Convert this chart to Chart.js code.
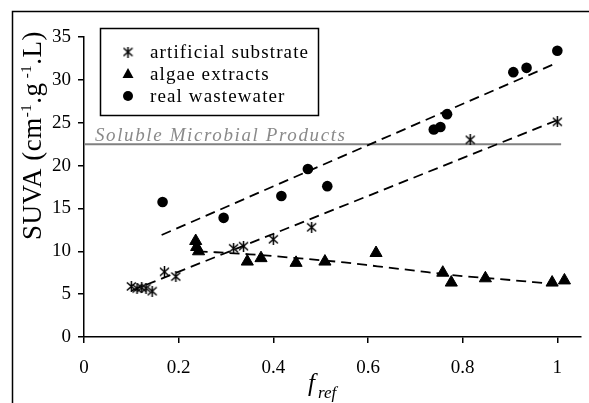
<!DOCTYPE html>
<html>
<head>
<meta charset="utf-8">
<script src="https://cdn.jsdelivr.net/npm/chart.js@4.4.1/dist/chart.umd.min.js"></script>
<style>
  html, body { margin: 0; padding: 0; background: #fff; }
</style>
</head>
<body>
<canvas id="chart" width="589" height="403"></canvas>
<script>
// series names (legend)
const seriesNames = ["artificial substrate", "algae extracts", "real wastewater"];

// artificial substrate (asterisks)
const artX = [0.100, 0.112, 0.122, 0.131, 0.144, 0.170, 0.194, 0.316, 0.337, 0.400, 0.481, 0.816, 1.000];
const artY = [5.9, 5.65, 5.75, 5.7, 5.35, 7.6, 7.05, 10.35, 10.6, 11.4, 12.8, 23.0, 25.1];

// algae extracts (triangles)
const algX = [0.236, 0.238, 0.242, 0.345, 0.374, 0.448, 0.509, 0.617, 0.758, 0.776, 0.848, 0.989, 1.015];
const algY = [11.2, 10.5, 10.0, 8.8, 9.2, 8.65, 8.8, 9.8, 7.5, 6.35, 6.85, 6.35, 6.6];

// real wastewater (circles)
const wwX = [0.166, 0.295, 0.417, 0.473, 0.514, 0.739, 0.753, 0.767, 0.907, 0.935, 1.000];
const wwY = [15.75, 13.9, 16.45, 19.6, 17.6, 24.2, 24.5, 26.0, 30.9, 31.4, 33.4];

// trend lines
const artFitX = [0.10, 1.00];
const artFitY = [5.4, 25.3];
const wwFitX = [0.164, 1.00];
const wwFitY = [11.9, 32.0];
const algFitX = [0.24, 0.35, 0.45, 0.55, 0.62, 0.69, 0.80, 0.88, 0.95, 0.99];
const algFitY = [10.0, 9.65, 9.2, 8.7, 8.25, 7.8, 7.1, 6.75, 6.4, 6.2];

// reference line: Soluble Microbial Products
const smpLabel = "Soluble Microbial Products";
const smpX = [0, 1.008];
const smpY = [22.5, 22.5];

// axes
const xTicks = [0, 0.2, 0.4, 0.6, 0.8, 1];
const yTicks = [0, 5, 10, 15, 20, 25, 30, 35];

const SERIF = "'Liberation Serif', 'Times New Roman', serif";

const pts = (xs, ys) => xs.map((x, i) => ({ x: x, y: ys[i] }));

// asterisk marker
function makeAsterisk(size) {
  const c = document.createElement("canvas");
  c.width = size; c.height = size;
  const g = c.getContext("2d");
  g.strokeStyle = "#000";
  g.lineWidth = 1.5;
  g.beginPath();
  g.moveTo(1, 1.5); g.lineTo(size - 1, size - 1.5);
  g.moveTo(size - 1, 1.5); g.lineTo(1, size - 1.5);
  g.moveTo(size / 2, 0); g.lineTo(size / 2, size);
  g.stroke();
  return c;
}
const asterisk = makeAsterisk(11);

// draws text spread out to a given width
function fitText(ctx, text, x, y, width) {
  ctx.letterSpacing = "0px";
  const w = ctx.measureText(text).width;
  const ls = (width - w) / Math.max(1, text.length - 1);
  ctx.letterSpacing = ls + "px";
  ctx.fillText(text, x, y);
  ctx.letterSpacing = "0px";
  return ls;
}

const decor = {
  id: "decor",
  beforeDraw(chart) {
    const ctx = chart.ctx;
    ctx.save();
    ctx.fillStyle = "#fff";
    ctx.fillRect(0, 0, chart.width, chart.height);
    ctx.restore();
  },
  afterDraw(chart) {
    const ctx = chart.ctx;
    const ys = chart.scales.y;
    ctx.save();

    // outer frame
    ctx.strokeStyle = "#000";
    ctx.lineWidth = 1.5;
    ctx.strokeRect(12.5, 11.5, 700, 500);

    // SMP label
    ctx.font = "italic 19px " + SERIF;
    ctx.fillStyle = "#8a8a8a";
    ctx.textBaseline = "alphabetic";
    ctx.textAlign = "left";
    fitText(ctx, smpLabel, 95, ys.getPixelForValue(smpY[0]) - 3, 250);

    // legend
    ctx.strokeStyle = "#000";
    ctx.lineWidth = 1.5;
    ctx.strokeRect(100.5, 28.5, 218, 87);
    ctx.fillStyle = "#000";
    ctx.font = "19px " + SERIF;
    ctx.textBaseline = "middle";
    ctx.letterSpacing = "0px";
    const w0 = ctx.measureText(seriesNames[0]).width;
    const ls = (158 - w0) / (seriesNames[0].length - 1);
    const rows = [52, 74, 96];
    seriesNames.forEach((name, i) => {
      const y = rows[i];
      const mx = 128;
      if (i === 0) {
        ctx.drawImage(asterisk, mx - 5.5, y - 5.5);
      } else if (i === 1) {
        ctx.beginPath();
        ctx.moveTo(mx, y - 6);
        ctx.lineTo(mx + 5.5, y + 4);
        ctx.lineTo(mx - 5.5, y + 4);
        ctx.closePath();
        ctx.fill();
      } else {
        ctx.beginPath();
        ctx.arc(mx, y, 5, 0, Math.PI * 2);
        ctx.fill();
      }
      ctx.letterSpacing = ls + "px";
      ctx.fillText(name, 150, y + 1);
    });
    ctx.letterSpacing = "0px";

    // y title with superscripts
    const parts = [
      ["SUVA (cm", 0], ["-1", 1], [".g", 0], [" -1", 1], [".L)", 0]
    ];
    const big = "27px " + SERIF, small = "15px " + SERIF;
    ctx.textBaseline = "alphabetic";
    let total = 0;
    parts.forEach(p => { ctx.font = p[1] ? small : big; total += ctx.measureText(p[0]).width; });
    const target = 208;
    const extra = (target - total) / 16;
    ctx.translate(41, 136);
    ctx.rotate(-Math.PI / 2);
    let cx = -target / 2;
    parts.forEach(p => {
      ctx.font = p[1] ? small : big;
      ctx.letterSpacing = extra + "px";
      ctx.fillText(p[0], cx, p[1] ? -10 : 0);
      cx += ctx.measureText(p[0]).width;
    });
    ctx.setTransform(1, 0, 0, 1, 0, 0);
    ctx.letterSpacing = "0px";

    // x title: f_ref
    ctx.font = "italic 25px " + SERIF;
    ctx.fillText("f", 308, 391);
    ctx.font = "italic 17px " + SERIF;
    ctx.fillText("ref", 318, 398);

    ctx.restore();
  }
};

const dash = [10, 6];

new Chart(document.getElementById("chart").getContext("2d"), {
  type: "scatter",
  data: {
    datasets: [
      {
        label: seriesNames[0],
        data: pts(artX, artY),
        pointStyle: asterisk,
        pointRadius: 5.5,
        pointHoverRadius: 5.5,
        showLine: false
      },
      {
        label: seriesNames[1],
        data: pts(algX, algY),
        pointStyle: "triangle",
        pointRadius: 7,
        backgroundColor: "#000",
        borderColor: "#000",
        borderWidth: 1,
        showLine: false
      },
      {
        label: seriesNames[2],
        data: pts(wwX, wwY),
        pointStyle: "circle",
        pointRadius: 5.3,
        backgroundColor: "#000",
        borderColor: "#000",
        borderWidth: 0,
        showLine: false
      },
      {
        label: "fit artificial",
        data: pts(artFitX, artFitY),
        showLine: true,
        pointRadius: 0,
        borderColor: "#000",
        borderWidth: 1.8,
        borderDash: dash
      },
      {
        label: "fit algae",
        data: pts(algFitX, algFitY),
        showLine: true,
        pointRadius: 0,
        borderColor: "#000",
        borderWidth: 1.8,
        borderDash: dash,
        cubicInterpolationMode: "monotone"
      },
      {
        label: "fit wastewater",
        data: pts(wwFitX, wwFitY),
        showLine: true,
        pointRadius: 0,
        borderColor: "#000",
        borderWidth: 1.8,
        borderDash: dash
      },
      {
        label: smpLabel,
        data: pts(smpX, smpY),
        showLine: true,
        pointRadius: 0,
        borderColor: "#808080",
        borderWidth: 2
      }
    ]
  },
  options: {
    responsive: false,
    animation: false,
    devicePixelRatio: 1,
    layout: { padding: { top: 37, right: 6, left: 0, bottom: 0 } },
    plugins: {
      legend: { display: false },
      tooltip: { enabled: false },
      title: { display: false }
    },
    scales: {
      x: {
        type: "linear",
        min: 0,
        max: 1.05,
        afterBuildTicks: (s) => { s.ticks = xTicks.map(v => ({ value: v })); },
        afterFit: (s) => { s.height = 66; },
        ticks: {
          color: "#000",
          font: { family: SERIF, size: 19 },
          padding: 14,
          maxRotation: 0,
          callback: (v) => String(v)
        },
        grid: { drawOnChartArea: false, drawTicks: true, tickLength: 6, color: "#000", lineWidth: 1.5 },
        border: { color: "#000", width: 1.5 }
      },
      y: {
        type: "linear",
        min: 0,
        max: 35,
        afterBuildTicks: (s) => { s.ticks = yTicks.map(v => ({ value: v })); },
        afterFit: (s) => { s.width = 84; },
        ticks: {
          color: "#000",
          font: { family: SERIF, size: 19 },
          padding: 7,
          callback: (v) => String(v)
        },
        grid: { drawOnChartArea: false, drawTicks: true, tickLength: 6, color: "#000", lineWidth: 1.5 },
        border: { color: "#000", width: 1.5 }
      }
    }
  },
  plugins: [decor]
});
</script>
</body>
</html>
